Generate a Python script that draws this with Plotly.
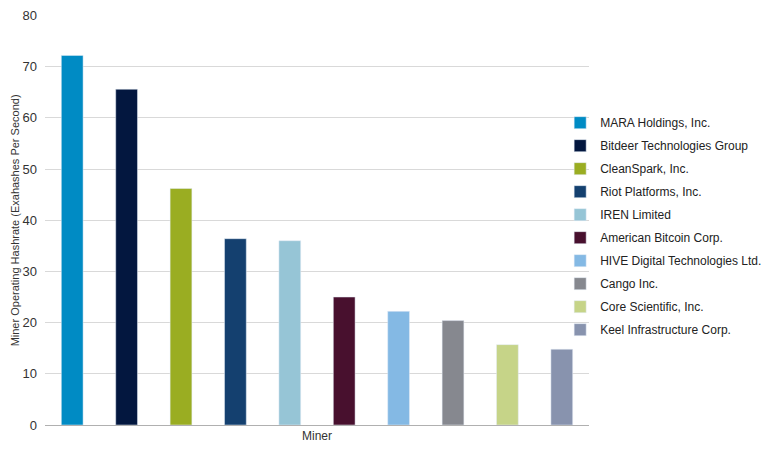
import plotly.graph_objects as go

# Miner operating hashrate, EH/s
miners = [
    "MARA Holdings, Inc.",
    "Bitdeer Technologies Group",
    "CleanSpark, Inc.",
    "Riot Platforms, Inc.",
    "IREN Limited",
    "American Bitcoin Corp.",
    "HIVE Digital Technologies Ltd.",
    "Cango Inc.",
    "Core Scientific, Inc.",
    "Keel Infrastructure Corp.",
]
hashrate = [72.2, 65.6, 46.2, 36.4, 36.0, 25.0, 22.2, 20.4, 15.7, 14.8]
y_ticks = [0, 10, 20, 30, 40, 50, 60, 70, 80]
colors = ["#008bc4", "#03173f", "#9aad22", "#14406f", "#96c5d6",
          "#48102e", "#84b9e4", "#86888f", "#c6d488", "#8893ae"]

fig = go.Figure()
for name, val, col in zip(miners, hashrate, colors):
    fig.add_trace(go.Bar(x=["Miner"], y=[val], name=name, marker_color=col,
                         legendgroup=name))

# page has an 8px body margin, so the figure is a bit smaller than the window
fig.update_layout(
    width=772, height=444,
    margin=dict(l=37, r=191, t=7, b=27),
    barmode="group", bargap=0, bargroupgap=0.6,
    plot_bgcolor="white", paper_bgcolor="white",
    font=dict(family="Liberation Sans, Arial", size=12, color="#333333"),
    legend=dict(x=0.947, xanchor="left", y=0.485, yanchor="middle",
                font=dict(size=12, color="#222222"), tracegroupgap=4,
                bgcolor="rgba(0,0,0,0)"),
    showlegend=True,
)
fig.update_xaxes(showticklabels=False, ticks="", showgrid=False,
                 title=dict(text="Miner", standoff=6, font=dict(size=12)),
                 automargin=False)
fig.update_yaxes(range=[0, 80.1], tickvals=y_ticks, showgrid=True,
                 gridcolor="#d9d9d9",
                 zeroline=True, zerolinecolor="#b0b0b0", zerolinewidth=1,
                 tickfont=dict(size=13, color="#333333"), ticks="",
                 ticklabelstandoff=7, automargin=False)

# y title as an annotation so it sits left of the tick labels
fig.add_annotation(text="Miner Operating Hashrate (Exahashes Per Second)",
                   xref="paper", yref="paper", x=-0.0545, y=0.5,
                   xanchor="center", yanchor="middle", textangle=-90,
                   showarrow=False, font=dict(size=11, color="#333333"))

fig.write_html("out.html")
